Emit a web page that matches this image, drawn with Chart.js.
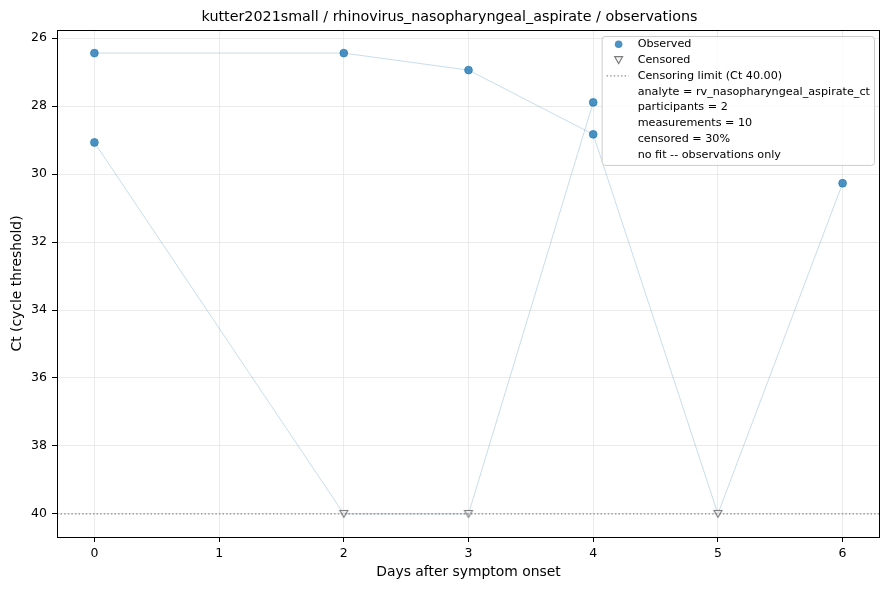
<!DOCTYPE html>
<html>
<head>
<meta charset="utf-8">
<script src="https://cdn.jsdelivr.net/npm/chart.js@4.4.1/dist/chart.umd.min.js"></script>
<style>
html, body { margin: 0; padding: 0; background: #fff; }
#wrap { width: 889px; height: 590px; }
</style>
</head>
<body>
<div id="wrap"><canvas id="chart" width="889" height="590"></canvas></div>
<script>
var titleText = "kutter2021small / rhinovirus_nasopharyngeal_aspirate / observations";
var xLabel = "Days after symptom onset";
var yLabel = "Ct (cycle threshold)";
var xTicks = [0, 1, 2, 3, 4, 5, 6];
var yTicks = [26, 28, 30, 32, 34, 36, 38, 40];
var xRange = [-0.3, 6.3];
var yRange = [25.76, 40.68];
var censorLimit = 40;

// one trajectory per participant, censored values sit on the limit
var p1Days = [0, 2, 3, 4, 5, 6];
var p1Ct = [26.44, 26.44, 26.94, 28.83, 40, 30.27];
var p1Censored = [false, false, false, false, true, false];
var p2Days = [0, 2, 3, 4];
var p2Ct = [29.07, 40, 40, 27.89];
var p2Censored = [false, true, true, false];

var legendNotes = [
  "analyte = rv_nasopharyngeal_aspirate_ct",
  "participants = 2",
  "measurements = 10",
  "censored = 30%",
  "no fit -- observations only"
];

var FONT = '"DejaVu Sans", "Noto Sans", sans-serif';
var blue = 'rgba(31,119,180,0.8)';
var pale = 'rgba(31,119,180,0.28)';
var grey = 'rgba(110,110,110,0.9)';
var limitGrey = 'rgba(110,110,110,0.8)';

function toPoints(days, ct) {
  return days.map(function (d, i) { return { x: d, y: ct[i] }; });
}
function pick(days, ct, flags, want) {
  var out = [];
  days.forEach(function (d, i) { if (flags[i] === want) out.push({ x: d, y: ct[i] }); });
  return out;
}

var observed = pick(p1Days, p1Ct, p1Censored, false).concat(pick(p2Days, p2Ct, p2Censored, false));
var censored = pick(p1Days, p1Ct, p1Censored, true).concat(pick(p2Days, p2Ct, p2Censored, true));

// downward triangle marker, centred on its box like matplotlib's "v"
function drawTri(c, cx, cy) {
  c.beginPath();
  c.moveTo(cx - 4, cy - 3.5);
  c.lineTo(cx + 4, cy - 3.5);
  c.lineTo(cx, cy + 3.5);
  c.closePath();
  c.fillStyle = 'rgba(235,235,235,0.6)';
  c.fill();
  c.strokeStyle = grey;
  c.lineWidth = 1.1;
  c.stroke();
}
var triImg = document.createElement('canvas');
triImg.width = 12; triImg.height = 12;
drawTri(triImg.getContext('2d'), 6, 6);

function trajectory(days, ct) {
  return {
    data: toPoints(days, ct), showLine: true, pointRadius: 0,
    borderColor: pale, borderWidth: 0.9, order: 1
  };
}

var titlePlugin = {
  id: 'figTitle',
  afterDraw: function (chart) {
    var ctx = chart.ctx;
    ctx.save();
    ctx.font = '14.3px ' + FONT;
    ctx.fillStyle = '#000';
    ctx.textAlign = 'center';
    ctx.textBaseline = 'middle';
    ctx.fillText(titleText, 449.5, 17);
    ctx.restore();
  }
};

var censorLine = {
  id: 'censorLine',
  afterDatasetsDraw: function (chart) {
    var ctx = chart.ctx, a = chart.chartArea;
    var y = chart.scales.y.getPixelForValue(censorLimit);
    ctx.save();
    ctx.strokeStyle = limitGrey;
    ctx.lineWidth = 1.3;
    ctx.setLineDash([1.4, 2.2]);
    ctx.beginPath();
    ctx.moveTo(a.left, y);
    ctx.lineTo(a.right, y);
    ctx.stroke();
    ctx.restore();
    // frame
    ctx.save();
    ctx.strokeStyle = '#000';
    ctx.lineWidth = 1;
    ctx.strokeRect(Math.round(a.left) + 0.5, Math.round(a.top) + 0.5,
      Math.round(a.right - a.left) - 1, Math.round(a.bottom - a.top));
    ctx.restore();
  }
};

var noteLegend = {
  id: 'noteLegend',
  afterDraw: function (chart) {
    var ctx = chart.ctx, a = chart.chartArea;
    var rows = ['Observed', 'Censored', 'Censoring limit (Ct ' + censorLimit.toFixed(2) + ')'].concat(legendNotes);
    ctx.save();
    ctx.font = '11.2px ' + FONT;
    var textW = 0;
    rows.forEach(function (r) { textW = Math.max(textW, ctx.measureText(r).width); });
    var rowH = 15.8;
    var right = a.right - 6, top = a.top + 6;
    var left = right - textW - 40;
    var bottom = top + 8.3 + rowH * (rows.length - 1) + 10;
    ctx.fillStyle = 'rgba(255,255,255,0.8)';
    ctx.strokeStyle = '#cccccc';
    ctx.lineWidth = 1;
    ctx.beginPath();
    ctx.roundRect(left + 0.5, top + 0.5, right - left, bottom - top, 3);
    ctx.fill();
    ctx.stroke();

    var mx = left + 17;
    rows.forEach(function (r, i) {
      var y = top + 8.3 + rowH * i;
      ctx.fillStyle = '#000';
      ctx.textBaseline = 'middle';
      ctx.fillText(r, left + 36, y);
      if (i === 0) {
        ctx.fillStyle = blue;
        ctx.beginPath();
        ctx.arc(mx, y, 3.8, 0, Math.PI * 2);
        ctx.fill();
      } else if (i === 1) {
        drawTri(ctx, mx, y);
      } else if (i === 2) {
        ctx.strokeStyle = limitGrey;
        ctx.lineWidth = 1.3;
        ctx.setLineDash([1.4, 2.2]);
        ctx.beginPath();
        ctx.moveTo(left + 5, y);
        ctx.lineTo(left + 27, y);
        ctx.stroke();
        ctx.setLineDash([]);
        ctx.lineWidth = 1;
      }
    });
    ctx.restore();
  }
};

var ctx = document.getElementById('chart').getContext('2d');
var chart = new Chart(ctx, {
  type: 'scatter',
  data: {
    datasets: [
      trajectory(p1Days, p1Ct),
      trajectory(p2Days, p2Ct),
      {
        label: 'Observed', data: observed, pointRadius: 3.9,
        backgroundColor: blue, borderColor: 'rgba(31,119,180,0.85)', borderWidth: 0.8, order: 0
      },
      {
        label: 'Censored', data: censored, pointStyle: triImg, pointRadius: 5, order: 0
      }
    ]
  },
  options: {
    responsive: false,
    animation: false,
    events: [],
    layout: { padding: { left: 0, right: 9, top: 30, bottom: 0 } },
    plugins: {
      legend: { display: false },
      tooltip: { enabled: false },
      title: { display: false }
    },
    scales: {
      x: {
        type: 'linear', position: 'bottom', min: xRange[0], max: xRange[1],
        afterBuildTicks: function (s) { s.ticks = xTicks.map(function (v) { return { value: v }; }); },
        afterFit: function (s) { s.height = 53; },
        ticks: { color: '#000', font: { family: FONT, size: 12.5 }, padding: 4, maxRotation: 0,
          callback: function (v) { return String(v); } },
        grid: { color: '#e6e6e6', lineWidth: 0.8, tickColor: '#000', tickLength: 5, tickWidth: 1 },
        border: { display: false },
        title: { display: true, text: xLabel, color: '#000', font: { family: FONT, size: 13.9 },
          padding: { top: 0, bottom: 9 } }
      },
      y: {
        type: 'linear', position: 'left', reverse: true, min: yRange[0], max: yRange[1],
        afterBuildTicks: function (s) { s.ticks = yTicks.map(function (v) { return { value: v }; }); },
        afterFit: function (s) { s.width = 57; },
        ticks: { color: '#000', font: { family: FONT, size: 12.5 }, padding: 5,
          callback: function (v) { return String(v); } },
        grid: { color: '#e6e6e6', lineWidth: 0.8, tickColor: '#000', tickLength: 5, tickWidth: 1 },
        border: { display: false },
        title: { display: true, text: yLabel, color: '#000', font: { family: FONT, size: 13.9 },
          padding: { top: 9, bottom: 0 } }
      }
    }
  },
  plugins: [censorLine, noteLegend, titlePlugin]
});
</script>
</body>
</html>
